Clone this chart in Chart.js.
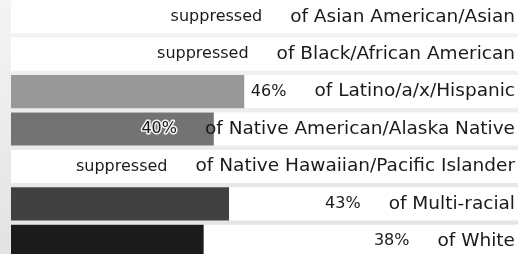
<!DOCTYPE html>
<html>
<head>
<meta charset="utf-8">
<script src="https://cdn.jsdelivr.net/npm/chart.js@4"></script>
<style>
  html, body { margin: 0; padding: 0; width: 518px; height: 254px; overflow: hidden; }
  body { background: linear-gradient(to bottom, #f4f4f4, #e3e3e3); position: relative; }
  #wrap { position: absolute; left: 0; top: -2px; width: 518px; height: 262px; }
</style>
</head>
<body>
<div id="wrap"><canvas id="chart"></canvas></div>
<script>
// rows, top to bottom; null = suppressed
const groups = [
  "of Asian American/Asian",
  "of Black/African American",
  "of Latino/a/x/Hispanic",
  "of Native American/Alaska Native",
  "of Native Hawaiian/Pacific Islander",
  "of Multi-racial",
  "of White",
];
const shares = [null, null, 46, 40, null, 43, 38];
const barColors = ["#ffffff", "#ffffff", "#989898", "#737373", "#ffffff", "#414141", "#1b1b1b"];

const labelFont = "18.5px 'DejaVu Sans'";
const valueFont = "16px 'DejaVu Sans'";

const rowLabels = {
  id: "rowLabels",
  beforeDatasetsDraw(chart) {
    const { ctx, chartArea } = chart;
    const y = chart.scales.y;
    const meta = chart.getDatasetMeta(0);
    ctx.save();
    ctx.fillStyle = "#ffffff";
    groups.forEach((g, i) => {
      const h = meta.data[i].height;
      ctx.fillRect(chartArea.left, y.getPixelForValue(i) - h / 2, chartArea.right - chartArea.left, h);
    });
    ctx.restore();
  },
  afterDatasetsDraw(chart) {
    const { ctx, chartArea } = chart;
    const y = chart.scales.y;
    ctx.save();
    ctx.textBaseline = "middle";
    ctx.textAlign = "right";
    groups.forEach((g, i) => {
      const cy = y.getPixelForValue(i);
      const right = chartArea.right - 3;
      ctx.font = labelFont;
      ctx.fillStyle = "#1a1a1a";
      ctx.fillText(g, right, cy);
      const w = ctx.measureText(g).width;
      const v = shares[i] == null ? "suppressed" : shares[i] + "%";
      ctx.font = valueFont;
      ctx.lineWidth = 3;
      ctx.lineJoin = "round";
      ctx.strokeStyle = "rgba(255,255,255,0.9)";
      ctx.strokeText(v, right - w - 28, cy);
      ctx.fillText(v, right - w - 28, cy);
    });
    ctx.restore();
  },
};

new Chart(document.getElementById("chart"), {
  type: "bar",
  data: {
    labels: groups,
    datasets: [
      {
        data: shares,
        backgroundColor: barColors,
        barPercentage: 0.885,
        categoryPercentage: 1,
      },
    ],
  },
  options: {
    indexAxis: "y",
    responsive: true,
    maintainAspectRatio: false,
    animation: false,
    layout: { padding: { left: 11, right: 0, top: 0, bottom: 0 } },
    plugins: { legend: { display: false }, tooltip: { enabled: false } },
    scales: {
      x: { display: false, min: 0, max: 100 },
      y: { display: false },
    },
  },
  plugins: [rowLabels],
});
</script>
</body>
</html>
